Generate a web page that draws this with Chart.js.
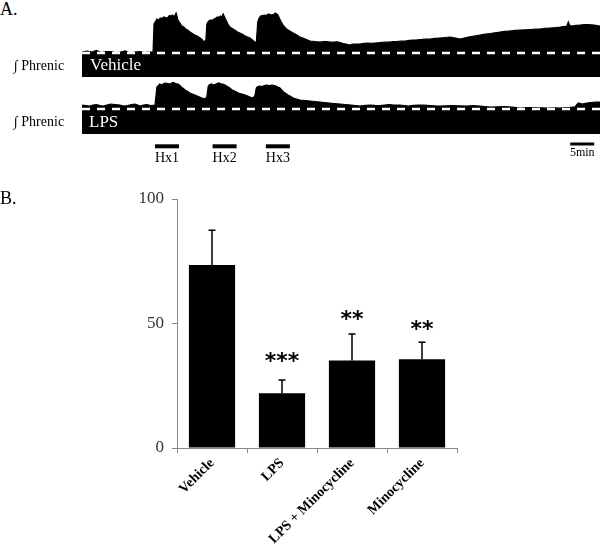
<!DOCTYPE html>
<html><head><meta charset="utf-8">
<script src="https://cdn.jsdelivr.net/npm/chart.js@4.4.1/dist/chart.umd.min.js"></script>
<style>
html,body{margin:0;padding:0;background:#fff;}
#wrap{position:relative;width:600px;height:544px;overflow:hidden;background:#fff;font-family:"Liberation Serif","Times New Roman",serif;}
canvas{position:absolute;}
.lbl{position:absolute;white-space:nowrap;line-height:1;color:#000;}
</style></head><body>
<div id="wrap">
<canvas id="cVeh" width="518" height="77" style="left:82px;top:0px"></canvas>
<canvas id="cLps" width="518" height="90" style="left:82px;top:78px"></canvas>
<canvas id="cBar" width="600" height="364" style="left:0px;top:180px"></canvas>
</div>
<script>
// ---------- Panel A data (time in min, integrated phrenic amplitude, arbitrary units) ----------
const vehicleTrace = [[0,25],[1,26],[2,25],[3,26.5],[4,24.5],[5,25.5],[6,25.5],[7,24.5],[8,25],[9,26],[10,24],[11,25],[12,25.5],[13,24.5],[14,25],[14.8,25],[15.0,53],[15.6,58],[16.0,57],[16.3,59],[16.7,58.5],[17.0,60],[17.4,59.5],[17.8,59],[18.2,61.5],[18.5,61],[18.9,62],[19.2,60],[19.6,64],[20.0,57],[20.4,54],[20.8,51],[21.2,50],[21.6,48],[22.0,47],[22.5,45],[23.0,43.5],[23.5,42],[24.0,41],[24.6,39],[25.0,37.5],[25.4,35],[25.8,37],[26.0,53],[26.4,56],[26.8,57],[27.1,56.5],[27.5,58],[27.9,59],[28.2,60],[28.5,59.5],[28.8,61],[29.1,60],[29.4,63],[29.8,59],[30.1,56],[30.4,53],[30.8,50],[31.3,48.5],[31.8,47],[32.4,45],[32.9,44],[33.5,42.5],[34.0,41],[34.5,40],[35.0,39],[35.5,37],[36.0,35],[36.3,34],[36.6,55],[36.9,59],[37.2,61],[37.6,61.5],[38.0,62],[38.4,61.5],[38.8,63],[39.2,62.5],[39.6,62],[40.0,63],[40.3,64],[40.8,62],[41.1,59],[41.4,56],[41.9,52],[42.2,50],[42.6,48],[43.3,46],[43.8,44.5],[44.4,43],[44.9,41.5],[45.4,40],[46.0,39],[46.5,38],[47.0,37],[47.5,36],[48.5,35.5],[49.6,35],[50.3,35.5],[51.0,35.5],[51.7,34.8],[52.5,35],[53.2,35.2],[53.8,34.5],[54.4,33.5],[55.0,33],[55.8,32],[56.4,32.8],[57.0,33],[57.9,33],[58.7,33.6],[59.5,34],[60.2,33.6],[61.0,34],[62.1,34.5],[63.0,34.8],[64.0,35],[64.8,35.3],[65.5,35.5],[66.4,35.8],[67.3,36],[68.2,36.6],[69.0,37],[69.8,37.2],[70.5,37.5],[71.5,37.8],[72.5,38],[73.5,38.6],[74.5,39],[75.6,39.5],[76.7,40],[77.3,39.4],[77.8,39],[78.8,38],[79.6,39],[80.5,40],[81.7,41],[82.9,42],[84.0,42.8],[85.0,43.5],[86.0,44.2],[87.1,45],[88.0,45.6],[89.0,46],[90.2,46.6],[91.3,47],[92.4,47.2],[93.5,47.5],[94.5,47.8],[95.4,48],[96.5,48.6],[97.5,49],[98.6,49.4],[99.6,50],[100.3,50.5],[101.0,51],[101.3,55],[101.6,51.5],[102.0,51],[102.9,51.6],[103.8,52],[104.6,52.4],[105.5,52.5],[106.7,51.8],[107.9,51]];
const lpsTrace = [[0,29],[0.8,28.5],[1.5,28],[2.3,29],[3,29.5],[3.8,28.5],[4.5,28],[5.2,29],[6,30],[6.9,29.5],[7.9,29],[8.7,28],[9.5,28.5],[10.3,29.5],[11,30],[11.6,29],[12.1,28],[12.8,29],[13.5,29.5],[14.3,28.5],[15.2,29],[15.6,47],[16.2,50],[16.7,49],[17.0,50.5],[17.4,51],[17.9,50.5],[18.3,50],[18.7,51],[19.0,51.5],[19.5,50.5],[20.0,50],[20.4,48.5],[20.7,47],[21.1,45.5],[21.5,44],[22.0,42.5],[22.5,41],[23.0,40],[23.5,39],[24.0,38],[24.5,37],[25.0,36],[25.6,35],[26.0,37],[26.3,48],[26.6,49.5],[27.0,50],[27.4,49],[27.7,49.5],[28.1,50.5],[28.5,51],[28.9,50.2],[29.3,50],[29.8,49],[30.1,48],[30.5,47],[30.9,45.5],[31.3,44],[32.0,42.5],[32.6,41],[33.3,40],[34.0,39],[34.5,38],[35.0,37],[35.6,36],[36.0,38],[36.3,46],[36.6,47.5],[37.0,48],[37.5,47.5],[38.0,48.5],[38.5,49],[39.0,48.5],[39.6,49],[40.0,48.5],[40.4,48],[40.8,47],[41.25,46],[41.6,44],[42.0,42],[42.5,40.5],[42.9,39],[43.5,37.5],[44.0,36],[44.7,35],[45.4,34],[46.5,33.5],[47.5,33],[48.5,32.5],[49.6,32],[50.5,31.5],[51.5,31],[52.6,30.5],[53.75,30],[54.9,29.5],[56,29],[57,28.5],[57.9,28],[59,28.6],[60,29],[61,28.6],[62,28.5],[63,29],[64,29.5],[65,29],[66.25,29],[67.1,28.5],[68,28],[69,28.6],[70,29],[71.2,28.8],[72.5,28.5],[73.5,28.2],[74.6,28],[75.8,28.2],[77,28.5],[78.5,28.2],[80,28],[81.5,28.3],[82.9,28],[84,27.5],[85,27],[86.5,27.2],[88,27.5],[89.6,26.8],[91.25,26],[92.6,26.3],[94,26.5],[95.5,26.2],[97,26],[98.3,26.2],[99.6,26],[100.5,26.3],[101.5,26.5],[102.1,26.8],[102.7,27],[103.0,29],[103.4,31],[104.2,30],[105.1,31],[106,31.5],[107,31.8],[107.9,32]];
const vehicleBaseline = 24;
const lpsBaseline = 25;
const traceEnd = 107.9;
const hxLabels = ['Hx1','Hx2','Hx3'];
const hxStarts = [15.2, 27.2, 38.3];
const hxDuration = 5;
const scaleBarStart = 101.7;
const scaleBarLength = 5;
const scaleBarLabel = '5min';

// ---------- Panel B data ----------
const categories = ['Vehicle','LPS','LPS + Minocycline','Minocycline'];
const meanValues = [73.5, 22.0, 35.1, 35.6];
const semValues = [14.0, 5.3, 10.7, 6.9];
const significance = ['', '***', '**', '**'];
const starLevels = [null, 36.9, 53.4, 49.4];
const yTicks = [0, 50, 100];

const wrap = document.getElementById('wrap');
function addLabel(text, x, baselineY, size, opts) {
  opts = opts || {};
  const d = document.createElement('div');
  d.className = 'lbl';
  d.textContent = text;
  d.style.fontSize = size + 'px';
  if (opts.family) d.style.fontFamily = opts.family;
  if (opts.color) d.style.color = opts.color;
  if (opts.weight) d.style.fontWeight = opts.weight;
  const asc = opts.asc || 0.8375;
  d.style.top = (baselineY - asc * size) + 'px';
  if (opts.center) { d.style.left = x + 'px'; d.style.transform = 'translateX(-50%)'; }
  else d.style.left = x + 'px';
  wrap.appendChild(d);
  return d;
}

const pts = arr => arr.map(p => ({x: p[0], y: p[1]}));
const hidden = {display: false};

const baseOpts = {
  responsive: false, animation: false, devicePixelRatio: 1,
  layout: {padding: 0},
  plugins: {legend: hidden, tooltip: {enabled: false}},
  elements: {point: {radius: 0}, line: {tension: 0}}
};

const vehChart = new Chart(document.getElementById('cVeh'), {
  type: 'line',
  data: {datasets: [
    {data: [{x:0,y:vehicleBaseline},{x:traceEnd,y:vehicleBaseline}], borderColor:'#fff', borderWidth:2.5, borderDash:[8,7], fill:false, order:0},
    {data: pts(vehicleTrace), borderColor:'#000', borderWidth:1.2, backgroundColor:'#000', fill:'origin', order:1}
  ]},
  options: Object.assign({}, baseOpts, {
    scales: {x: {type:'linear', min:0, max:traceEnd, display:false}, y: {min:0, max:77, display:false}}
  })
});

const lpsDatasets = [
  {data: [{x:0,y:lpsBaseline},{x:traceEnd,y:lpsBaseline}], borderColor:'#fff', borderWidth:2.5, borderDash:[8,7], fill:false, order:0},
  {data: pts(lpsTrace), borderColor:'#000', borderWidth:1.2, backgroundColor:'#000', fill:'origin', order:1}
];
hxStarts.forEach(s => lpsDatasets.push({data:[{x:s,y:-12.3},{x:s+hxDuration,y:-12.3}], borderColor:'#000', borderWidth:4, borderCapStyle:'butt', fill:false, order:0}));
lpsDatasets.push({data:[{x:scaleBarStart,y:-10},{x:scaleBarStart+scaleBarLength,y:-10}], borderColor:'#000', borderWidth:3, borderCapStyle:'butt', fill:false, order:0});

const lpsChart = new Chart(document.getElementById('cLps'), {
  type: 'line',
  data: {datasets: lpsDatasets},
  options: Object.assign({}, baseOpts, {
    scales: {x: {type:'linear', min:0, max:traceEnd, display:false}, y: {min:-34, max:56, display:false}}
  })
});

// Panel A text
addLabel('A.', 0, 15, 18);
addLabel('B.', 0, 204, 18);
addLabel('\u222B Phrenic', 14, 71, 14);
addLabel('\u222B Phrenic', 14, 127, 14);
addLabel('Vehicle', 90, 70.5, 17, {color:'#fff'});
addLabel('LPS', 89, 127.5, 17, {color:'#fff'});
(function(){
  const xs = lpsChart.scales.x, ys = lpsChart.scales.y;
  const ox = 82, oy = 78;
  hxStarts.forEach((s, i) => {
    const cx = ox + xs.getPixelForValue(s + hxDuration / 2);
    const by = oy + ys.getPixelForValue(-12.3) + 16;
    addLabel(hxLabels[i], cx, by, 14, {center:true});
  });
  const cx = ox + xs.getPixelForValue(scaleBarStart + scaleBarLength / 2);
  addLabel(scaleBarLabel, cx, oy + ys.getPixelForValue(-10) + 12.5, 12, {center:true});
})();

// ---------- Panel B ----------
const errorBarPlugin = {
  id: 'errorBars',
  afterDatasetsDraw(chart) {
    const ctx = chart.ctx, meta = chart.getDatasetMeta(0), ys = chart.scales.y;
    ctx.save();
    ctx.strokeStyle = '#000';
    ctx.lineWidth = 1.5;
    meta.data.forEach((bar, i) => {
      const top = ys.getPixelForValue(meanValues[i] + semValues[i]);
      ctx.beginPath();
      ctx.moveTo(bar.x, bar.y);
      ctx.lineTo(bar.x, top);
      ctx.moveTo(bar.x - 3.5, top);
      ctx.lineTo(bar.x + 3.5, top);
      ctx.stroke();
    });
    ctx.restore();
  }
};

const barChart = new Chart(document.getElementById('cBar'), {
  type: 'bar',
  data: {labels: categories, datasets: [{data: meanValues, backgroundColor:'#000', borderWidth:0, barPercentage:0.66, categoryPercentage:1}]},
  options: {
    responsive: false, animation: false, devicePixelRatio: 1,
    layout: {padding: {left:0, right:143, top:19, bottom:0}},
    plugins: {legend: hidden, tooltip: {enabled:false}},
    scales: {
      x: {
        grid: {drawOnChartArea:false, drawTicks:true, tickLength:5, color:'#888', offset:true},
        border: {color:'#888', width:1},
        ticks: {maxRotation:45, minRotation:45, padding:2, color:'#000', font:{family:'"Liberation Serif", serif', size:14, weight:'bold'}},
        afterFit(s) { s.height = 96; }
      },
      y: {
        min: 0, max: 100,
        afterBuildTicks(s) { s.ticks = yTicks.map(v => ({value:v})); },
        grid: {drawOnChartArea:false, drawTicks:true, tickLength:5, color:'#888'},
        border: {color:'#888', width:1},
        ticks: {padding:8, color:'#333', font:{family:'"Liberation Serif", serif', size:17}},
        afterFit(s) { s.width = 177; }
      }
    }
  },
  plugins: [errorBarPlugin]
});

(function(){
  const meta = barChart.getDatasetMeta(0), ys = barChart.scales.y;
  significance.forEach((s, i) => {
    if (!s) return;
    const cx = meta.data[i].x;
    const cy = 180 + ys.getPixelForValue(starLevels[i]);
    addLabel(s, cx, cy + 12, 22, {center:true, family:'"DejaVu Sans", sans-serif', weight:'bold', asc:0.846});
  });
})();
</script>
</body></html>
